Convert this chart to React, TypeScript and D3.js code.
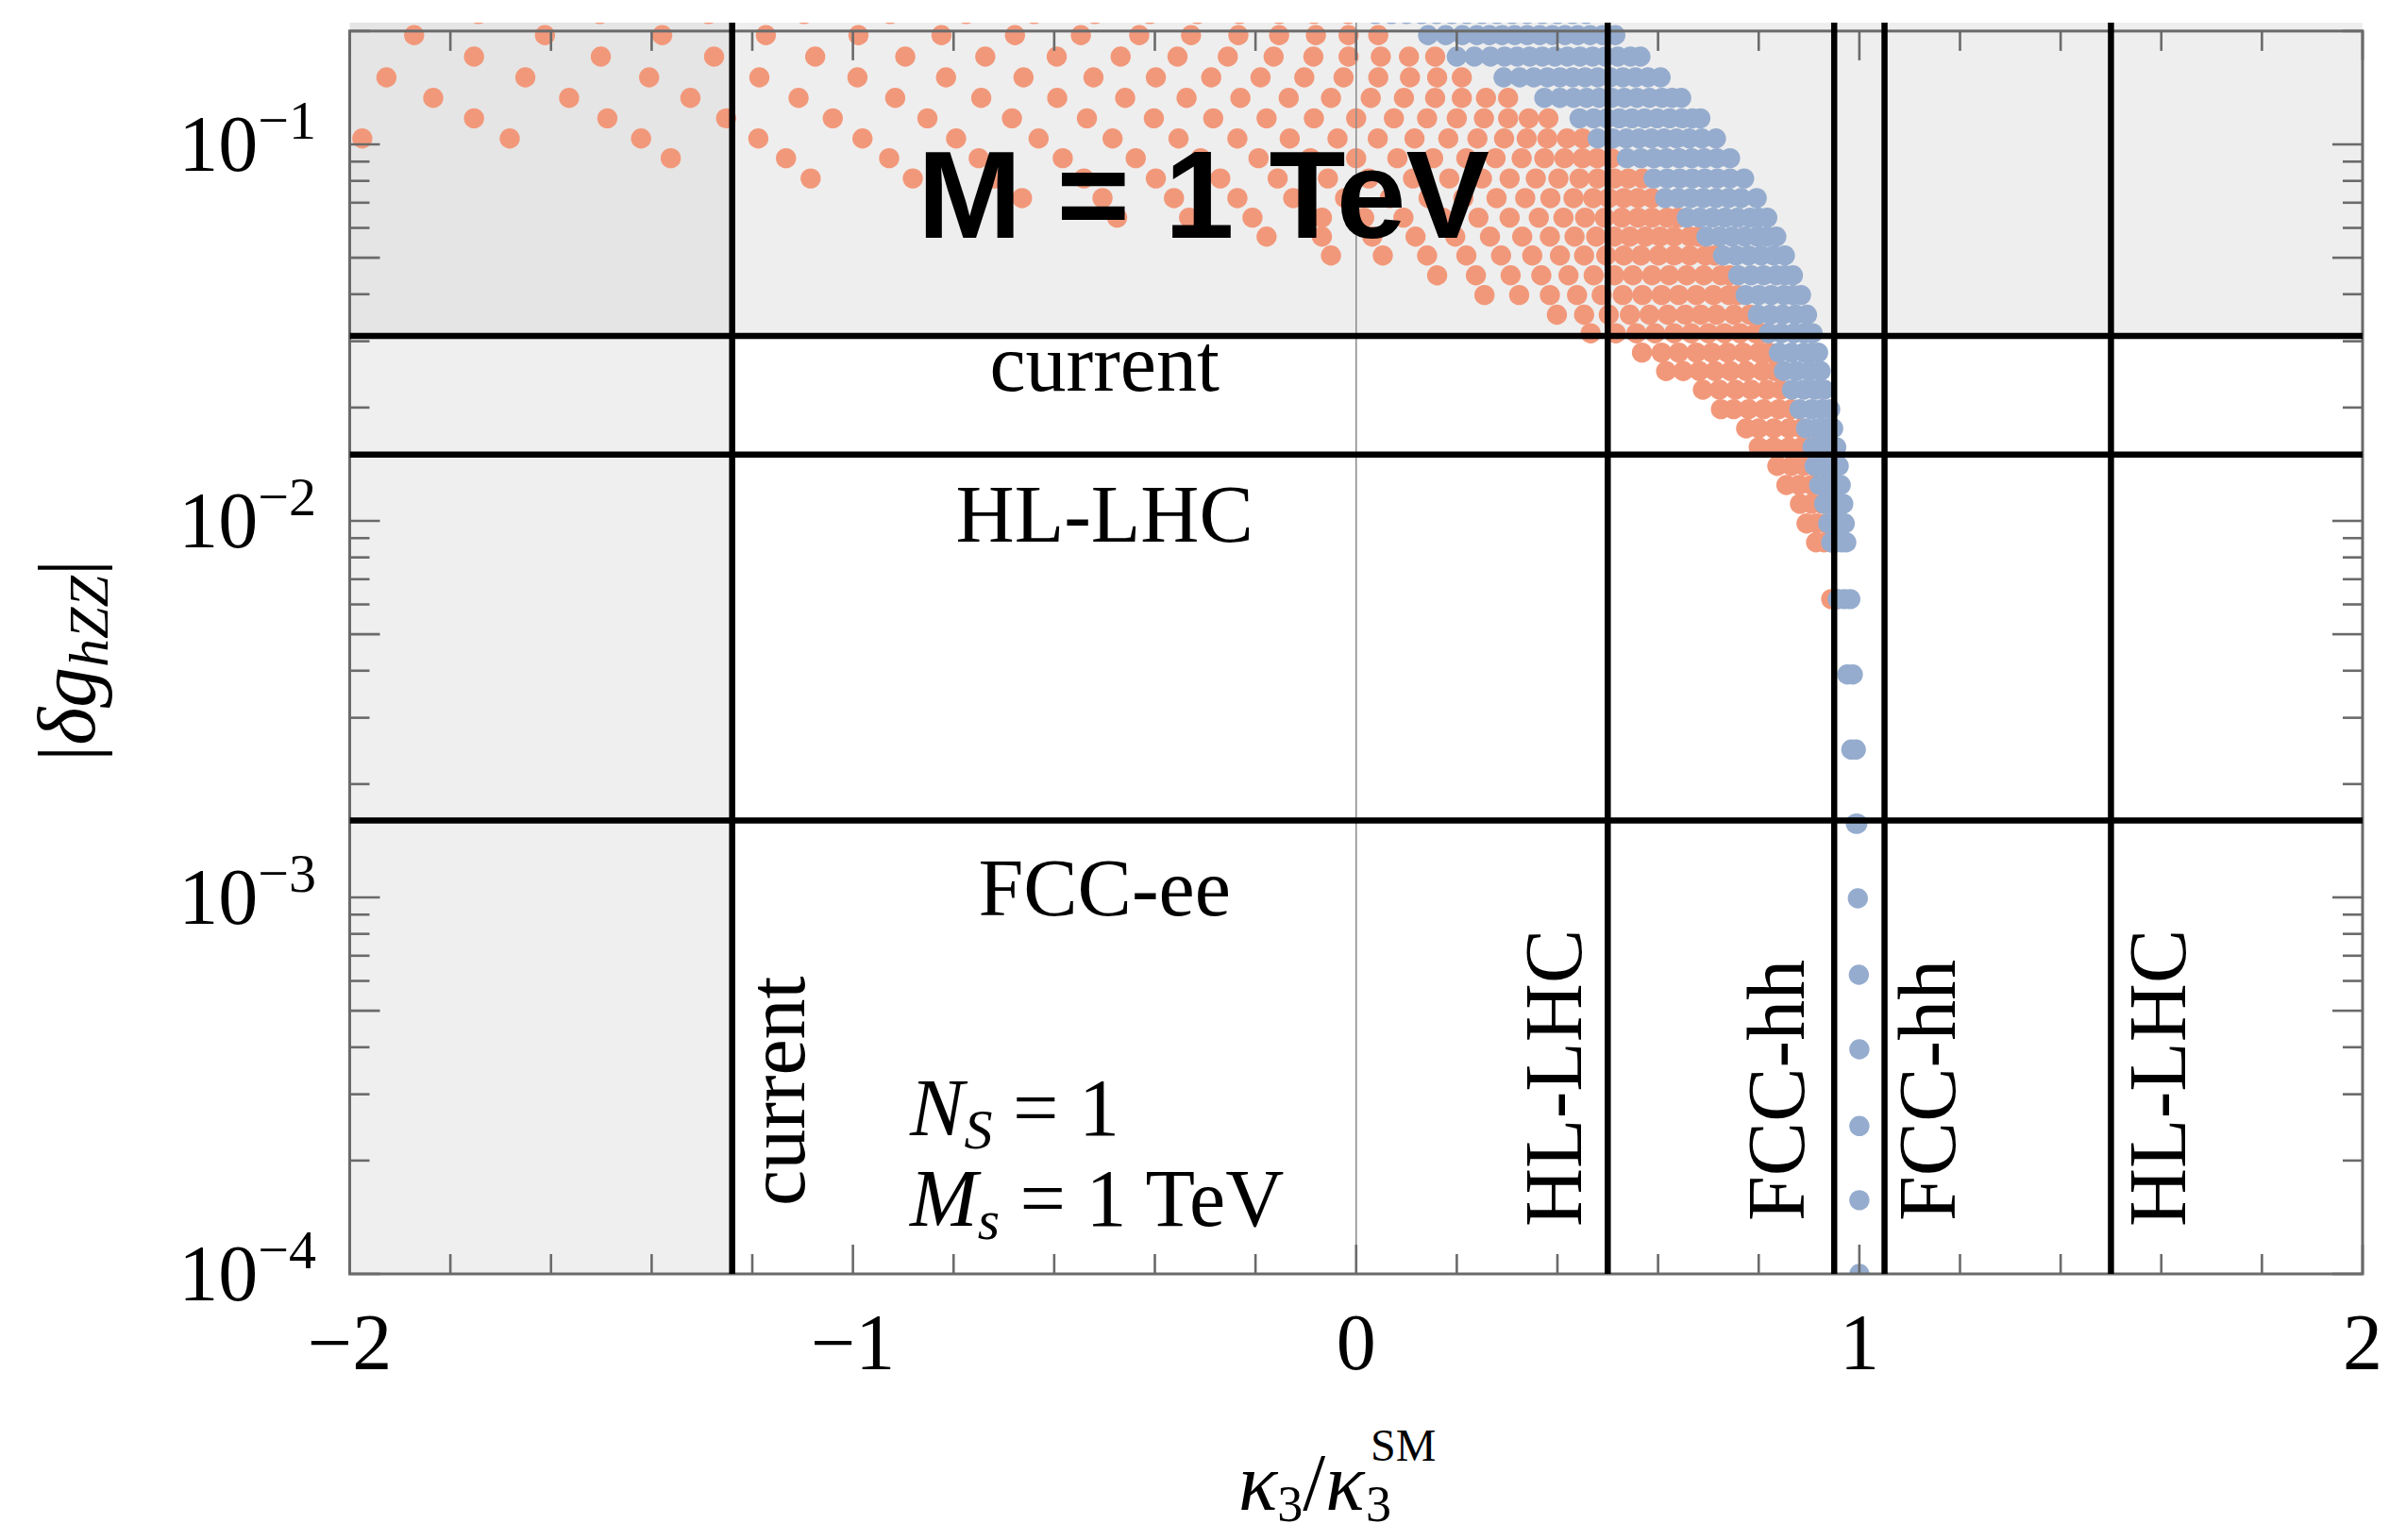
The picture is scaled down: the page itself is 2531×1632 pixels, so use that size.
import React from "react";
import * as d3 from "d3";

// ---------------- data ----------------
// |delta g_hZZ| value of each scan row
const deltaG = [
  0.222, 0.195, 0.171, 0.1506, 0.1329, 0.1173, 0.1037, 0.0919, 0.0812, 0.072,
  0.0639, 0.0569, 0.0507, 0.0449, 0.0398, 0.0353, 0.0315, 0.028, 0.025, 0.0223,
  0.0198, 0.0176, 0.0157, 0.014, 0.01245, 0.0111, 0.00984, 0.00877, 0.0062, 0.00391,
  0.00247, 0.00157, 0.000994, 0.000623, 0.000395, 0.000247, 0.000157, 0.0001,
];

// kappa_3 / kappa_3^SM of the orange points, one list per row
const orangeKappa: number[][] = [
  [-1.744, -1.503, -1.287, -1.097, -0.926, -0.775, -0.640, -0.519, -0.410, -0.316, -0.232, -0.153, -0.084, -0.016],
  [-1.872, -1.612, -1.379, -1.173, -0.989, -0.824, -0.678, -0.547, -0.431, -0.328, -0.234, -0.153, -0.080, -0.015, 0.044],
  [-1.753, -1.501, -1.276, -1.075, -0.896, -0.737, -0.595, -0.468, -0.355, -0.255, -0.164, -0.085, -0.015, 0.049, 0.105, 0.157],
  [-1.927, -1.651, -1.405, -1.186, -0.991, -0.815, -0.661, -0.522, -0.398, -0.288, -0.190, -0.103, -0.025, 0.044, 0.107, 0.161, 0.210],
  [-1.834, -1.564, -1.323, -1.108, -0.916, -0.745, -0.594, -0.459, -0.337, -0.230, -0.134, -0.050, 0.029, 0.095, 0.157, 0.210, 0.258, 0.302],
  [-1.753, -1.488, -1.252, -1.040, -0.852, -0.684, -0.535, -0.402, -0.284, -0.178, -0.084, 0.000, 0.075, 0.141, 0.200, 0.254, 0.302, 0.343, 0.382],
  [-1.975, -1.682, -1.421, -1.188, -0.981, -0.795, -0.631, -0.484, -0.353, -0.236, -0.132, -0.037, 0.043, 0.116, 0.183, 0.241, 0.294, 0.339, 0.380, 0.419, 0.450],
  [-1.362, -1.133, -0.928, -0.750, -0.583, -0.438, -0.309, -0.194, -0.091, 0.000, 0.082, 0.153, 0.219, 0.277, 0.329, 0.374, 0.414, 0.450, 0.479, 0.507],
  [-1.084, -0.881, -0.719, -0.541, -0.398, -0.270, -0.156, -0.056, 0.025, 0.113, 0.185, 0.250, 0.305, 0.357, 0.402, 0.444, 0.480, 0.513, 0.541, 0.569],
  [-0.664, -0.504, -0.362, -0.236, -0.125, -0.022, 0.067, 0.144, 0.213, 0.279, 0.336, 0.386, 0.432, 0.471, 0.502, 0.532, 0.560, 0.588],
  [-0.475, -0.332, -0.206, -0.068, 0.016, 0.094, 0.172, 0.243, 0.305, 0.363, 0.412, 0.455, 0.494, 0.528, 0.560, 0.588, 0.618, 0.640],
  [-0.178, -0.068, 0.032, 0.118, 0.197, 0.266, 0.330, 0.385, 0.434, 0.477, 0.513, 0.544, 0.575, 0.604, 0.632, 0.663, 0.680],
  [-0.050, 0.053, 0.141, 0.219, 0.288, 0.350, 0.405, 0.453, 0.497, 0.532, 0.566, 0.601, 0.632, 0.663, 0.694, 0.712],
  [0.161, 0.238, 0.307, 0.368, 0.422, 0.472, 0.513, 0.550, 0.588, 0.622, 0.657, 0.691, 0.725, 0.742],
  [0.255, 0.324, 0.385, 0.439, 0.488, 0.530, 0.569, 0.607, 0.641, 0.676, 0.710, 0.741, 0.758],
  [0.399, 0.453, 0.502, 0.544, 0.583, 0.619, 0.654, 0.685, 0.716, 0.751, 0.782],
  [0.466, 0.516, 0.557, 0.594, 0.632, 0.666, 0.700, 0.732, 0.763, 0.794, 0.808],
  [0.568, 0.607, 0.641, 0.676, 0.707, 0.738, 0.769, 0.800, 0.820],
  [0.616, 0.650, 0.682, 0.713, 0.744, 0.775, 0.807, 0.832],
  [0.689, 0.722, 0.754, 0.785, 0.816, 0.844],
  [0.725, 0.750, 0.780, 0.810, 0.840, 0.865],
  [0.775, 0.800, 0.830, 0.860, 0.885],
  [0.800, 0.830, 0.860, 0.885, 0.905],
  [0.837, 0.865, 0.890, 0.910],
  [0.855, 0.880, 0.905, 0.920],
  [0.882, 0.905, 0.925],
  [0.895, 0.915, 0.935],
  [0.914, 0.930, 0.944],
  [0.944, 0.955],
  [], [], [], [], [], [], [], [], [],
];

// kappa_3 / kappa_3^SM of the blue points, one list per row
const blueKappa: number[][] = [
  [0.038, 0.070, 0.100, 0.130, 0.160, 0.190, 0.220, 0.250, 0.280, 0.310, 0.340, 0.370, 0.400, 0.430, 0.457],
  [0.143, 0.178, 0.211, 0.240, 0.265, 0.290, 0.315, 0.340, 0.365, 0.390, 0.415, 0.440, 0.465, 0.490, 0.515],
  [0.200, 0.235, 0.267, 0.295, 0.320, 0.345, 0.370, 0.395, 0.420, 0.445, 0.470, 0.495, 0.520, 0.545, 0.565],
  [0.293, 0.325, 0.353, 0.380, 0.405, 0.430, 0.455, 0.480, 0.505, 0.530, 0.555, 0.580, 0.605],
  [0.374, 0.405, 0.432, 0.458, 0.483, 0.508, 0.533, 0.558, 0.583, 0.608, 0.628, 0.646],
  [0.444, 0.472, 0.498, 0.523, 0.548, 0.573, 0.598, 0.623, 0.648, 0.668, 0.684],
  [0.480, 0.510, 0.537, 0.562, 0.587, 0.612, 0.637, 0.662, 0.687, 0.715],
  [0.538, 0.566, 0.592, 0.617, 0.642, 0.667, 0.692, 0.717, 0.743],
  [0.591, 0.618, 0.643, 0.668, 0.693, 0.718, 0.743, 0.771],
  [0.614, 0.640, 0.665, 0.690, 0.715, 0.740, 0.765, 0.796],
  [0.657, 0.683, 0.708, 0.733, 0.758, 0.783, 0.800, 0.817],
  [0.696, 0.722, 0.747, 0.772, 0.797, 0.817, 0.835],
  [0.729, 0.755, 0.780, 0.805, 0.830, 0.852],
  [0.759, 0.785, 0.810, 0.835, 0.852, 0.868],
  [0.774, 0.800, 0.825, 0.850, 0.868, 0.884],
  [0.798, 0.823, 0.848, 0.873, 0.896],
  [0.820, 0.845, 0.870, 0.890, 0.907],
  [0.840, 0.865, 0.890, 0.905, 0.918],
  [0.850, 0.875, 0.900, 0.923],
  [0.866, 0.890, 0.912, 0.930],
  [0.881, 0.905, 0.925, 0.942],
  [0.894, 0.915, 0.933, 0.948],
  [0.907, 0.925, 0.940, 0.954],
  [0.911, 0.930, 0.945, 0.959],
  [0.920, 0.937, 0.950, 0.963],
  [0.930, 0.945, 0.957, 0.968],
  [0.938, 0.952, 0.962, 0.971],
  [0.944, 0.955, 0.965, 0.974],
  [0.957, 0.970, 0.982],
  [0.976, 0.987],
  [0.984, 0.993],
  [0.993, 0.996],
  [0.997],
  [0.999],
  [1.0],
  [1.0],
  [1.0],
  [1.0],
];

// experimental bounds
const hBoundValues = [0.031, 0.015, 0.0016];
const hBoundLabels = ["current", "HL-LHC", "FCC-ee"];
const vBoundValues = [-1.24, 0.5, 0.95, 1.05, 1.5];
const vBoundLabels = ["current", "HL-LHC", "FCC-hh", "FCC-hh", "HL-LHC"];

const xTickLabels = [-2, -1, 0, 1, 2];
const yTickExponents = [-4, -3, -2, -1];

// ---------------- layout ----------------
const W = 2531;
const H = 1632;
const LEFT = 370.5;
const RIGHT = 2503;
const BOTTOM = 1350;
const TOP = 32.9;
const CLIP_TOP = 24;

const ORANGE = "#f2987a";
const BLUE = "#95acce";
const FRAME = "#6a6a6a";
const SERIF = "'Liberation Serif', 'DejaVu Serif', serif";
const R = 10.7;

export default function App() {
  const x = d3.scaleLinear().domain([-2, 2]).range([LEFT, RIGHT]);
  const y = d3.scaleLog().domain([1e-4, 0.2]).range([BOTTOM, TOP]);

  const xMinor = d3.range(-20, 21, 2).map((v) => v / 10);
  const yMinor: { v: number; long: boolean }[] = [];
  yTickExponents.forEach((e) => {
    for (let m = 1; m <= 9; m++) {
      const v = m * Math.pow(10, e);
      if (v <= 0.2 + 1e-9) yMinor.push({ v, long: m === 1 || m === 5 });
    }
  });

  const xCur = x(vBoundValues[0]);
  const yCur = y(hBoundValues[0]);

  const orangePts: [number, number][] = [];
  orangeKappa.forEach((row, i) => row.forEach((k) => orangePts.push([k, deltaG[i]])));
  const bluePts: [number, number][] = [];
  blueKappa.forEach((row, i) => row.forEach((k) => bluePts.push([k, deltaG[i]])));

  const hLabelOffsets = [58, 92, 100];
  const vLabelOffsets = [76, -28, -32, 74, 79];
  const vLabelStart = [1278, 1300, 1294, 1294, 1300];

  return (
    <svg
      width={W}
      height={H}
      viewBox={`0 0 ${W} ${H}`}
      style={{ position: "absolute", left: 0, top: 0, background: "#fff" }}
    >
      <defs>
        <clipPath id="plotClip">
          <rect x={LEFT} y={CLIP_TOP} width={RIGHT - LEFT} height={BOTTOM - CLIP_TOP} />
        </clipPath>
      </defs>

      {/* shaded excluded regions */}
      <rect x={LEFT} y={CLIP_TOP} width={xCur - LEFT} height={yCur - CLIP_TOP} fill="#e5e5e5" />
      <rect x={xCur} y={CLIP_TOP} width={RIGHT - xCur} height={yCur - CLIP_TOP} fill="#eeeeee" />
      <rect x={LEFT} y={yCur} width={xCur - LEFT} height={BOTTOM - yCur} fill="#efefef" />

      <g clipPath="url(#plotClip)">
        {orangePts.map(([k, g], i) => (
          <circle key={"o" + i} cx={x(k)} cy={y(g)} r={R} fill={ORANGE} />
        ))}
        {bluePts.map(([k, g], i) => (
          <circle key={"b" + i} cx={x(k)} cy={y(g)} r={R} fill={BLUE} />
        ))}
        {/* kappa = 0 guide */}
        <line x1={x(0)} x2={x(0)} y1={CLIP_TOP} y2={BOTTOM} stroke="#8a8a8a" strokeWidth={1.5} />
      </g>

      {/* frame */}
      <rect x={LEFT} y={TOP} width={RIGHT - LEFT} height={BOTTOM - TOP} fill="none" stroke={FRAME} strokeWidth={3} />

      {/* x ticks */}
      {xMinor.map((v, i) => {
        const major = Math.abs(v - Math.round(v)) < 1e-6;
        const len = major ? 31 : 21;
        return (
          <g key={"xt" + i} stroke={FRAME} strokeWidth={2.6}>
            <line x1={x(v)} x2={x(v)} y1={BOTTOM} y2={BOTTOM - len} />
            <line x1={x(v)} x2={x(v)} y1={TOP} y2={TOP + len} />
          </g>
        );
      })}
      {/* y ticks */}
      {yMinor.map((t, i) => {
        const len = t.long ? 32 : 21;
        return (
          <g key={"yt" + i} stroke={FRAME} strokeWidth={2.6}>
            <line x1={LEFT} x2={LEFT + len} y1={y(t.v)} y2={y(t.v)} />
            <line x1={RIGHT} x2={RIGHT - len} y1={y(t.v)} y2={y(t.v)} />
          </g>
        );
      })}

      {/* bound lines */}
      <g clipPath="url(#plotClip)">
        {hBoundValues.map((v, i) => (
          <line key={"h" + i} x1={LEFT} x2={RIGHT} y1={y(v)} y2={y(v)} stroke="#000" strokeWidth={6.5} />
        ))}
        {vBoundValues.map((v, i) => (
          <line key={"v" + i} x1={x(v)} x2={x(v)} y1={CLIP_TOP} y2={BOTTOM} stroke="#000" strokeWidth={6.5} />
        ))}
      </g>

      {/* bound labels */}
      {hBoundLabels.map((s, i) => (
        <text
          key={"hl" + i}
          x={x(-0.5)}
          y={y(hBoundValues[i]) + hLabelOffsets[i]}
          textAnchor="middle"
          fontFamily={SERIF}
          fontSize={86}
        >
          {s}
        </text>
      ))}
      {vBoundLabels.map((s, i) => (
        <text
          key={"vl" + i}
          transform={`translate(${x(vBoundValues[i]) + vLabelOffsets[i]},${vLabelStart[i]}) rotate(-90)`}
          textAnchor="start"
          fontFamily={SERIF}
          fontSize={86}
        >
          {s}
        </text>
      ))}

      {/* title */}
      <text
        x={972}
        y={252}
        fontFamily="'Liberation Sans', Arial, Helvetica, sans-serif"
        fontWeight="bold"
        fontSize={132}
        textLength={606}
        lengthAdjust="spacingAndGlyphs"
      >
        M = 1 TeV
      </text>

      {/* parameters */}
      <text x={964} y={1203} fontFamily={SERIF} fontSize={86}>
        <tspan fontStyle="italic">N</tspan>
        <tspan fontStyle="italic" fontSize={60} dy={14}>S</tspan>
        <tspan dy={-14}> = 1</tspan>
      </text>
      <text x={964} y={1299} fontFamily={SERIF} fontSize={86}>
        <tspan fontStyle="italic">M</tspan>
        <tspan fontStyle="italic" fontSize={60} dy={14}>s</tspan>
        <tspan dy={-14}> = 1 TeV</tspan>
      </text>

      {/* x tick labels */}
      {xTickLabels.map((v) => (
        <text key={"xl" + v} x={x(v)} y={1451} textAnchor="middle" fontFamily={SERIF} fontSize={84}>
          {v < 0 ? "\u2212" + Math.abs(v) : String(v)}
        </text>
      ))}
      {/* y tick labels */}
      {yTickExponents.map((e) => (
        <text key={"yl" + e} x={335} y={y(Math.pow(10, e)) + 28} textAnchor="end" fontFamily={SERIF} fontSize={84}>
          10
          <tspan fontSize={58} dy={-34}>{"\u2212" + Math.abs(e)}</tspan>
        </text>
      ))}

      {/* axis titles */}
      <text x={1312} y={1600} fontFamily={SERIF} fontSize={86}>
        <tspan fontStyle="italic">κ</tspan>
        <tspan fontSize={54} dy={12}>3</tspan>
        <tspan dy={-12}>/</tspan>
        <tspan fontStyle="italic">κ</tspan>
      </text>
      <text x={1447} y={1612} fontFamily={SERIF} fontSize={54}>3</text>
      <text x={1452} y={1548} fontFamily={SERIF} fontSize={48}>SM</text>
      <text transform="translate(100,700) rotate(-90)" textAnchor="middle" fontFamily={SERIF} fontSize={86}>
        <tspan>|</tspan>
        <tspan fontStyle="italic">δg</tspan>
        <tspan fontStyle="italic" fontSize={60} dy={14}>hZZ</tspan>
        <tspan dy={-14}>|</tspan>
      </text>
    </svg>
  );
}
